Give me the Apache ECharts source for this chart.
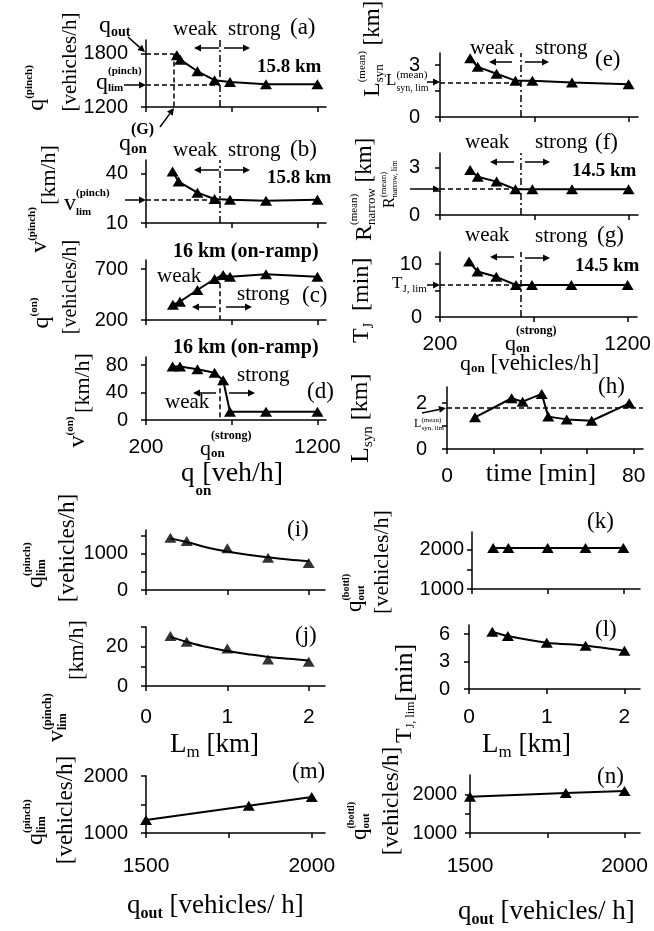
<!DOCTYPE html>
<html><head><meta charset="utf-8">
<script src="https://cdn.jsdelivr.net/npm/echarts@6/dist/echarts.min.js"></script>
<style>html,body{margin:0;padding:0;background:#fff}#c{width:654px;height:931px}</style>
</head><body><div id="c"></div>
<script>
// ---------------- data ----------------
const qG = 360, qStrong = 630;
const aX = [380, 400, 500, 600, 690, 900, 1200];
const aY = [1780, 1730, 1600, 1500, 1480, 1455, 1455];
const qLimPinch = 1450, qOut = 1800;
const bX = [355, 390, 500, 600, 690, 900, 1200];
const bY = [41, 35, 28.3, 24.5, 24, 23.4, 24];
const vLimPinch = 24;
const cX = [357, 398, 500, 600, 650, 690, 900, 1200];
const cY = [350, 380, 495, 603, 642, 626, 649, 626];
const cStrongTop = 640;
const dX = [355, 398, 500, 600, 650, 690, 900, 1200];
const dY = [78, 78, 74, 69, 58, 12, 12, 12];
const dStrongTop = 58;
const eX = [360, 400, 500, 600, 690, 900, 1200];
const eY = [3.4, 2.9, 2.5, 2.1, 2.1, 2.0, 1.9];
const LsynLim = 2.0;
const fX = [360, 400, 500, 600, 690, 900, 1200];
const fY = [2.83, 2.41, 2.1, 1.62, 1.62, 1.62, 1.62];
const RLim = 1.62;
const gX = [355, 400, 500, 605, 690, 900, 1200];
const gY = [10.5, 8.6, 7.6, 6.05, 6.05, 6.05, 6.05];
const TJLim = 6.05;
const hT = [12, 27.7, 32.4, 40.6, 43.4, 51.3, 62, 78.1];
const hL = [1.38, 2.21, 2.06, 2.4, 1.41, 1.29, 1.23, 1.99];
const hLim = 1.8;
const Lm = [0.3, 0.5, 1.0, 1.5, 2.0];
const iY = [1440, 1350, 1150, 890, 740];
const fitX = [0.3, 0.5, 0.75, 1.0, 1.25, 1.5, 1.75, 2.0];
const iFitY = [1420, 1320, 1170, 1060, 970, 900, 840, 790];
const jY = [25.4, 22.5, 19.1, 13.5, 12.3];
const jFitY = [25, 22.5, 19.8, 17.8, 16.2, 14.8, 13.8, 13.0];
const kX = [0.28, 0.48, 1.0, 1.5, 2.0];
const kY = [2050, 2050, 2050, 2050, 2050];
const lX = [0.3, 0.5, 1.0, 1.5, 2.0];
const lY = [6.27, 5.8, 5.07, 4.74, 4.19];
const mX = [1500, 1810, 2000];
const mY = [1230, 1480, 1630];
const nX = [1500, 1810, 2000];
const nY = [1950, 2050, 2100];

const qonTicks = [200, 700, 1200], qonLabels = [200, 1200];
const LmTicks = [0, 1, 2];
const qoutTicks = [1500, 1750, 2000], qoutLabels = [1500, 2000];

// ---------------- helpers ----------------
const SERIF = '"Liberation Serif"';
const SANS = '"Liberation Sans"';
const zip = (x, y) => x.map((v, i) => [v, y[i]]);
const ctx = document.createElement('canvas').getContext('2d');
function fnt(p) { return (p.b ? 'bold ' : '') + (p.s || 21) + 'px ' + (p.f || SERIF); }
function tw(p) { ctx.font = fnt(p); return ctx.measureText(p.t).width; }
function R(x, y, parts, o = {}) {
  let cx = 0, prevStart = 0, prevW = 0; const kids = [];
  parts.forEach(p => {
    const w = tw(p); let start;
    if (p.st) { start = prevStart; const adv = Math.max(prevW, w); cx = start + adv; prevW = adv; }
    else { start = cx + (p.dx || 0); cx = start + w; prevStart = start; prevW = w; }
    kids.push({ type: 'text', x: start, y: p.dy || 0, silent: true,
      style: { text: p.t, font: fnt(p), fill: '#000', align: 'left', verticalAlign: 'middle' } });
  });
  const shift = o.c ? -cx / 2 : (o.al === 'right' ? -cx : 0);
  kids.forEach(k => k.x += shift);
  return { type: 'group', x, y, rotation: o.rot ? Math.PI / 2 : 0, silent: true, children: kids };
}
function T(x, y, t, s, b) { return R(x, y, [{ t, s: s || 21, b }]); }
function arrow(x1, y1, x2, y2) {
  const ang = Math.atan2(y2 - y1, x2 - x1), L = 7, W = 3.5;
  const bx = x2 - L * Math.cos(ang), by = y2 - L * Math.sin(ang);
  const px = -Math.sin(ang) * W, py = Math.cos(ang) * W;
  return [
    { type: 'line', silent: true, shape: { x1, y1, x2: bx, y2: by }, style: { stroke: '#000', lineWidth: 1.5 } },
    { type: 'polygon', silent: true, shape: { points: [[x2, y2], [bx + px, by + py], [bx - px, by - py]] }, style: { fill: '#000' } }
  ];
}
const DASH = { type: [5, 3], color: '#000', width: 1.5 };
const DASHDOT = { type: [7, 3, 2, 3], color: '#000', width: 1.5 };
const seg = (x1, y1, x2, y2, st) => [{ coord: [x1, y1], lineStyle: st }, { coord: [x2, y2] }];

// ---------------- panels ----------------
const P = [
  { g: [146, 40, 180, 67], x: [200, 1250], y: [1200, 1950], xt: qonTicks, yt: [1200, 1800], yl: [1200, 1800], ym: 18 },
  { g: [146, 160, 180, 63], x: [200, 1250], y: [10, 48], xt: qonTicks, yt: [10, 40], yl: [10, 40], ym: 18 },
  { g: [146, 260, 180, 60], x: [200, 1250], y: [200, 790], xt: qonTicks, yt: [200, 700], yl: [200, 700], ym: 18 },
  { g: [146, 357, 180, 63], x: [200, 1250], y: [0, 92], xt: qonTicks, xl: qonLabels, xm: 17, yt: [0, 40, 80], yl: [0, 40, 80], ym: 18 },
  { g: [440, 53, 198, 64], x: [200, 1250], y: [0, 3.7], xt: qonTicks, yt: [0, 1.5, 3], yl: [0, 3], ym: 20 },
  { g: [440, 153, 198, 62], x: [200, 1250], y: [0, 3.9], xt: qonTicks, yt: [0, 1.5, 3], yl: [0, 3], ym: 20 },
  { g: [440, 252, 198, 65], x: [200, 1250], y: [0, 12.3], xt: qonTicks, xl: qonLabels, xm: 17, yt: [0, 5, 10], yl: [0, 10], ym: 18 },
  { g: [447, 387, 196, 62], x: [0, 84], y: [0, 2.7], xt: [0, 20, 40, 60, 80], xl: [0, 80], xm: 17, yt: [0, 1, 2], yl: [0, 2], ym: 20 },
  { g: [146, 530, 179, 60], x: [0, 2.2], y: [0, 1650], xt: LmTicks, yt: [0, 500, 1000, 1500], yl: [0, 1000], ym: 18 },
  { g: [146, 627, 179, 59], x: [0, 2.2], y: [0, 30], xt: LmTicks, xl: LmTicks, xm: 21, yt: [0, 10, 20, 30], yl: [0, 20], ym: 18 },
  { g: [472, 532, 168, 57], x: [0, 2.22], y: [1000, 2460], xt: LmTicks, yt: [1000, 1500, 2000], yl: [1000, 2000], ym: 8 },
  { g: [469, 625, 171, 64], x: [0, 2.2], y: [0, 7], xt: LmTicks, xl: LmTicks, xm: 18, yt: [0, 3, 6], yl: [0, 3, 6], ym: 19 },
  { g: [146, 776, 179, 57], x: [1500, 2040], y: [1000, 2000], xt: qoutTicks, xl: qoutLabels, xm: 23, yt: [1000, 1500, 2000], yl: [1000, 2000], ym: 18 },
  { g: [470, 775, 170, 58], x: [1500, 2050], y: [1000, 2520], xt: qoutTicks, xl: qoutLabels, xm: 23, yt: [1000, 1500, 2000], yl: [1000, 2000], ym: 13 }
];

const plain = v => String(v);
const axLine = { show: true, onZero: false, lineStyle: { color: '#000', width: 1.5 } };
const grids = [], xAxes = [], yAxes = [];
P.forEach((p, i) => {
  grids.push({ left: p.g[0], top: p.g[1], width: p.g[2], height: p.g[3], containLabel: false });
  xAxes.push({ gridIndex: i, type: 'value', min: p.x[0], max: p.x[1], axisLine: axLine,
    axisTick: { show: true, customValues: p.xt, length: 5, lineStyle: { color: '#000', width: 1.5 } },
    axisLabel: { show: !!p.xl, customValues: p.xl || p.xt, formatter: plain, color: '#000', fontSize: 21, fontFamily: SANS, margin: p.xm || 17 },
    splitLine: { show: false } });
  yAxes.push({ gridIndex: i, type: 'value', min: p.y[0], max: p.y[1], axisLine: axLine,
    axisTick: { show: true, customValues: p.yt, length: 5, lineStyle: { color: '#000', width: 1.5 } },
    axisLabel: { show: true, customValues: p.yl, formatter: plain, color: '#000', fontSize: 20, fontFamily: SANS, margin: p.ym || 18 },
    splitLine: { show: false } });
});

function mk(data) { return { silent: true, symbol: ['none', 'none'], label: { show: false }, animation: false, data }; }
function ser(i, x, y, extra = {}) {
  return Object.assign({ type: 'line', xAxisIndex: i, yAxisIndex: i, data: zip(x, y), symbol: 'triangle', symbolSize: [12, 10],
    showSymbol: true, clip: false, itemStyle: { color: '#000' }, lineStyle: { color: '#000', width: 2 }, z: 3 }, extra);
}
const series = [
  ser(0, aX, aY, { markLine: mk([seg(200, qOut, qG, qOut, DASH), seg(qG, qOut, qG, 1200, DASH), seg(200, qLimPinch, qStrong, qLimPinch, DASH), { xAxis: qStrong, lineStyle: DASHDOT }]) }),
  ser(1, bX, bY, { markLine: mk([seg(200, vLimPinch, qStrong, vLimPinch, DASH), { xAxis: qStrong, lineStyle: DASHDOT }]) }),
  ser(2, cX, cY, { markLine: mk([seg(qStrong, cStrongTop, qStrong, 200, DASH)]) }),
  ser(3, dX, dY, { markLine: mk([seg(qStrong, dStrongTop, qStrong, 0, DASH)]) }),
  ser(4, eX, eY, { markLine: mk([seg(200, LsynLim, qStrong, LsynLim, DASH), { xAxis: qStrong, lineStyle: DASHDOT }]) }),
  ser(5, fX, fY, { markLine: mk([seg(200, RLim, qStrong, RLim, DASH), { xAxis: qStrong, lineStyle: DASHDOT }]) }),
  ser(6, gX, gY, { markLine: mk([seg(200, TJLim, qStrong, TJLim, DASH), { xAxis: qStrong, lineStyle: DASHDOT }]) }),
  ser(7, hT, hL, { markLine: mk([{ yAxis: hLim, lineStyle: DASH }]) }),
  ser(8, fitX, iFitY, { symbol: 'none', smooth: 0.4 }),
  ser(8, Lm, iY, { type: 'scatter' }),
  ser(9, fitX, jFitY, { symbol: 'none', smooth: 0.4 }),
  ser(9, Lm, jY, { type: 'scatter' }),
  ser(10, kX, kY),
  ser(11, lX, lY, { smooth: 0.3 }),
  ser(12, mX, mY),
  ser(13, nX, nY)
];

// ---------------- annotations ----------------
const qPinch = [{ t: 'q', s: 24 }, { t: '(pinch)', s: 11, b: 1, dy: -9 }, { t: 'lim', s: 12, b: 1, dy: 6, st: 1 }];
const vPinch = [{ t: 'v', s: 24 }, { t: '(pinch)', s: 12, b: 1, dy: -9 }, { t: 'lim', s: 12, b: 1, dy: 6, st: 1 }];
const qBottl = [{ t: 'q', s: 23 }, { t: '(bottl)', s: 10, b: 1, dy: -9 }, { t: 'out', s: 11, b: 1, dy: 6, st: 1 }];
const qStr = [{ t: 'q', s: 22 }, { t: '(strong)', s: 12, b: 1, dy: -13 }, { t: 'on', s: 13, b: 1, dy: 5, st: 1 }];
const G = [
  // left column y titles
  R(37, 88, [{ t: 'q', s: 24 }, { t: '(pinch)', s: 11, b: 1, dy: -8 }], { rot: 1, c: 1 }),
  R(70, 62, [{ t: '[vehicles/h]', s: 21 }], { rot: 1, c: 1 }),
  R(40, 230, [{ t: 'v', s: 24 }, { t: '(pinch)', s: 11, b: 1, dy: -8 }], { rot: 1, c: 1 }),
  R(49, 175, [{ t: '[km/h]', s: 22 }], { rot: 1, c: 1 }),
  R(42, 313, [{ t: 'q', s: 24 }, { t: '(on)', s: 11, b: 1, dy: -8 }], { rot: 1, c: 1 }),
  R(71, 287, [{ t: '[vehicles/h]', s: 20 }], { rot: 1, c: 1 }),
  R(78, 432, [{ t: 'v', s: 24 }, { t: '(on)', s: 11, b: 1, dy: -8 }], { rot: 1, c: 1 }),
  R(83, 383, [{ t: '[km/h]', s: 22 }], { rot: 1, c: 1 }),
  // left tick-side
  R(99, 26, [{ t: 'q', s: 24 }, { t: 'out', s: 14, b: 1, dy: 6 }]),
  ...arrow(128, 37, 145, 52),
  R(96, 83, [{ t: 'q', s: 24 }, { t: '(pinch)', s: 11, b: 1, dy: -12 }, { t: 'lim', s: 11, b: 1, dy: 5, st: 1 }]),
  ...arrow(124, 85, 146, 85),
  R(119, 144, [{ t: 'q', s: 24 }, { t: '(G)', s: 16, b: 1, dy: -14 }, { t: 'on', s: 15, b: 1, dy: 5, st: 1 }]),
  ...arrow(160, 127, 174, 108),
  R(64, 204, [{ t: 'v', s: 24 }, { t: '(pinch)', s: 11, b: 1, dy: -11 }, { t: 'lim', s: 11, b: 1, dy: 8, st: 1 }]),
  ...arrow(125, 200, 146, 200),
  // panel texts left
  T(173, 29, 'weak'), T(228, 29, 'strong'), T(290, 28, '(a)', 23), T(257, 67, '15.8 km', 19, 1),
  ...arrow(219, 48, 194, 48), ...arrow(224, 48, 250, 48),
  T(173, 150, 'weak'), T(228, 150, 'strong'), T(290, 150, '(b)', 23), T(267, 178, '15.8 km', 19, 1),
  ...arrow(219, 170, 194, 170), ...arrow(224, 170, 250, 170),
  T(173, 252, '16 km (on-ramp)', 20, 1), T(157, 276, 'weak'), T(237, 294, 'strong'), T(302, 296, '(c)', 23),
  ...arrow(216, 307, 192, 307), ...arrow(226, 307, 252, 307),
  T(173, 348, '16 km (on-ramp)', 20, 1), T(237, 375, 'strong'), T(165, 402, 'weak'), T(307, 392, '(d)', 23),
  ...arrow(216, 393, 193, 393), ...arrow(229, 393, 255, 393),
  R(200, 449, qStr),
  R(181, 474, [{ t: 'q', s: 27 }, { t: 'on', s: 15, b: 1, dy: 17, dx: 1 }, { t: '[veh/h]', s: 28, dx: -9 }]),
  // right column
  T(470, 48, 'weak'), T(535, 48, 'strong'), T(595, 60, '(e)', 23),
  ...arrow(512, 62, 489, 62), ...arrow(525, 62, 549, 62),
  T(465, 142, 'weak'), T(535, 142, 'strong'), T(595, 143, '(f)', 23), T(572, 171, '14.5 km', 19, 1),
  ...arrow(514, 162, 490, 162), ...arrow(525, 162, 550, 162),
  T(465, 235, 'weak'), T(535, 236, 'strong'), T(597, 236, '(g)', 23), T(575, 266, '14.5 km', 19, 1),
  ...arrow(514, 257, 490, 257), ...arrow(525, 258, 550, 258),
  T(598, 387, '(h)', 23),
  R(373, 97, [{ t: 'L', s: 24 }, { t: '(mean)', s: 11, dy: -11 }, { t: 'syn', s: 13, dy: 7, st: 1 }, { t: ' [km]', s: 23 }], { rot: 1 }),
  R(365, 241, [{ t: 'R', s: 24 }, { t: '(mean)', s: 11, dy: -11 }, { t: 'narrow', s: 13, dy: 7, st: 1 }, { t: ' [km]', s: 23 }], { rot: 1 }),
  R(362, 343, [{ t: 'T', s: 24 }, { t: 'J', s: 14, dy: 7 }, { t: '  [min]', s: 24 }], { rot: 1 }),
  R(361, 463, [{ t: 'L', s: 26 }, { t: 'syn', s: 15, dy: 7 }, { t: ' [km]', s: 24 }], { rot: 1 }),
  R(386, 81, [{ t: 'L', s: 17 }, { t: '(mean)', s: 11, dy: -6 }, { t: 'syn, lim', s: 10, dy: 7, st: 1 }]),
  ...arrow(427, 82, 440, 82),
  R(390, 208, [{ t: 'R', s: 16 }, { t: '(mean)', s: 9, dy: -6 }, { t: 'narrow, lim', s: 8, dy: 5, st: 1 }], { rot: 1 }),
  ...arrow(410, 189, 440, 189),
  R(392, 284, [{ t: 'T', s: 17 }, { t: 'J, lim', s: 11, dy: 5 }]),
  ...arrow(427, 285, 440, 285),
  R(444, 424, [{ t: 'L', s: 12 }, { t: '(mean)', s: 7, dy: -4 }, { t: 'syn, lim', s: 7, dy: 4, st: 1 }], { al: 'right' }),
  ...arrow(422, 413, 446, 408),
  R(505, 344, qStr),
  R(460, 364, [{ t: 'q', s: 22 }, { t: 'on', s: 13, b: 1, dy: 5 }, { t: ' [vehicles/h]', s: 23 }]),
  R(541, 474, [{ t: 'time [min]', s: 26 }], { c: 1 }),
  // bottom
  R(36, 588, qPinch, { rot: 1 }),
  R(68, 548, [{ t: '[vehicles/h]', s: 23 }], { rot: 1, c: 1 }),
  R(57, 742, vPinch, { rot: 1 }),
  R(77, 650, [{ t: '[km/h]', s: 22 }], { rot: 1, c: 1 }),
  R(355, 612, qBottl, { rot: 1 }),
  R(382, 562, [{ t: '[vehicles/h]', s: 22 }], { rot: 1, c: 1 }),
  R(405, 743, [{ t: 'T', s: 24 }, { t: 'J, lim', s: 12, dy: 6 }, { t: '[min]', s: 26 }], { rot: 1 }),
  R(36, 845, qPinch, { rot: 1 }),
  R(66, 810, [{ t: '[vehicles/h]', s: 23 }], { rot: 1, c: 1 }),
  R(360, 840, qBottl, { rot: 1 }),
  R(392, 801, [{ t: '[vehicles/h]', s: 23 }], { rot: 1, c: 1 }),
  T(287, 530, '(i)', 23), T(295, 636, '(j)', 23), T(587, 522, '(k)', 23), T(595, 630, '(l)', 23),
  T(292, 772, '(m)', 23), T(597, 777, '(n)', 23),
  R(170, 745, [{ t: 'L', s: 27 }, { t: 'm', s: 17, dy: 8 }, { t: ' [km]', s: 27 }]),
  R(482, 745, [{ t: 'L', s: 27 }, { t: 'm', s: 17, dy: 8 }, { t: ' [km]', s: 27 }]),
  R(127, 906, [{ t: 'q', s: 27 }, { t: 'out', s: 16, b: 1, dy: 8 }, { t: ' [vehicles/ h]', s: 27 }]),
  R(458, 912, [{ t: 'q', s: 27 }, { t: 'out', s: 16, b: 1, dy: 8 }, { t: ' [vehicles/ h]', s: 27 }])
];

const chart = echarts.init(document.getElementById('c'), null, { renderer: 'canvas' });
chart.setOption({
  animation: false,
  backgroundColor: '#fff',
  grid: grids, xAxis: xAxes, yAxis: yAxes, series,
  graphic: { elements: G }
});
</script></body></html>
